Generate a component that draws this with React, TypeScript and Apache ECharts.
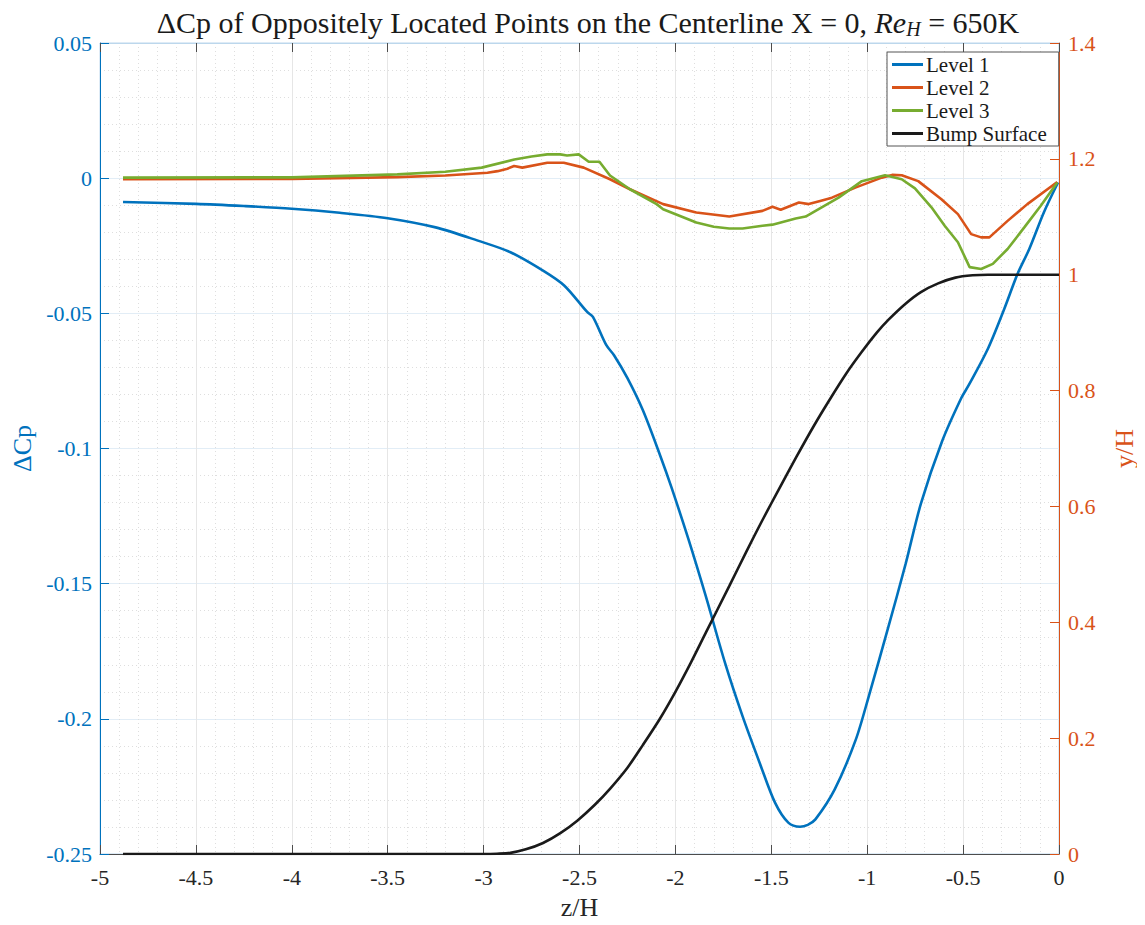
import React, { useEffect, useRef } from "react";
import * as echarts from "echarts";

const level1: [number, number][] = [
  [-4.88, -0.0088], [-4.5, -0.0095], [-4.25, -0.0103], [-4.0, -0.0113], [-3.75, -0.0128],
  [-3.5, -0.0148], [-3.25, -0.0182], [-3.03, -0.0231], [-2.86, -0.0274], [-2.69, -0.0342],
  [-2.58, -0.0397], [-2.46, -0.0495], [-2.43, -0.0513], [-2.36, -0.0618], [-2.32, -0.0655],
  [-2.25, -0.074], [-2.17, -0.0858], [-2.08, -0.1025], [-2.02, -0.1145], [-1.93, -0.134],
  [-1.84, -0.155], [-1.74, -0.1796], [-1.65, -0.199], [-1.56, -0.2164], [-1.48, -0.2311],
  [-1.41, -0.2385], [-1.35, -0.2399], [-1.31, -0.2392], [-1.27, -0.2372], [-1.17, -0.2262],
  [-1.06, -0.2078], [-0.99, -0.1912], [-0.89, -0.1661], [-0.8, -0.1428], [-0.72, -0.1204],
  [-0.61, -0.0974], [-0.51, -0.0814], [-0.47, -0.0765], [-0.37, -0.063], [-0.285, -0.0483],
  [-0.216, -0.0354], [-0.155, -0.0262], [-0.078, -0.0125], [-0.005, -0.0016],
];

const level2: [number, number][] = [
  [-4.88, -0.0004], [-4.0, -0.0003], [-3.45, 0.0004], [-3.2, 0.001], [-2.98, 0.002],
  [-2.927, 0.0026], [-2.876, 0.0035], [-2.841, 0.0045], [-2.798, 0.0039], [-2.668, 0.0057],
  [-2.582, 0.0057], [-2.478, 0.0039], [-2.341, -0.0004], [-2.237, -0.0041], [-2.064, -0.0096],
  [-1.891, -0.0127], [-1.719, -0.0142], [-1.546, -0.0121], [-1.494, -0.0106], [-1.451, -0.0117],
  [-1.356, -0.009], [-1.305, -0.0096], [-1.25, -0.0085], [-1.184, -0.0072], [-1.062, -0.0035],
  [-0.924, 0.0002], [-0.87, 0.0012], [-0.82, 0.0011], [-0.734, -0.0011], [-0.613, -0.0078],
  [-0.527, -0.0133], [-0.458, -0.0207], [-0.406, -0.0219], [-0.363, -0.0219], [-0.268, -0.0158],
  [-0.165, -0.0096], [-0.009, -0.0014],
];

const level3: [number, number][] = [
  [-4.88, 0.0002], [-4.0, 0.0003], [-3.45, 0.0014], [-3.2, 0.0024], [-3.01, 0.0039],
  [-2.84, 0.0069], [-2.75, 0.008], [-2.668, 0.0088], [-2.6, 0.0088], [-2.565, 0.0084],
  [-2.504, 0.0088], [-2.452, 0.0061], [-2.396, 0.0061], [-2.341, 0.001], [-2.237, -0.0041],
  [-2.098, -0.0096], [-2.064, -0.0115], [-1.891, -0.0164], [-1.8, -0.018], [-1.719, -0.0186],
  [-1.65, -0.0186], [-1.546, -0.0176], [-1.494, -0.0172], [-1.373, -0.0149], [-1.321, -0.0142],
  [-1.149, -0.0072], [-1.028, -0.0011], [-0.907, 0.0011], [-0.82, -0.0004], [-0.751, -0.0038],
  [-0.665, -0.0108], [-0.596, -0.0176], [-0.527, -0.0237], [-0.466, -0.0329], [-0.406, -0.0336],
  [-0.345, -0.0317], [-0.268, -0.0262], [-0.181, -0.0182], [-0.095, -0.0102], [-0.009, -0.0016],
];

const bump: [number, number][] = [
  [-4.88, 0], [-3.0, 0], [-2.93, 0.0005], [-2.86, 0.002], [-2.78, 0.008], [-2.69, 0.019],
  [-2.6, 0.036], [-2.51, 0.058], [-2.42, 0.085], [-2.34, 0.113], [-2.25, 0.149],
  [-2.17, 0.188], [-2.08, 0.234], [-2.0, 0.28], [-1.92, 0.33], [-1.84, 0.383],
  [-1.72, 0.462], [-1.63, 0.522], [-1.55, 0.574], [-1.46, 0.63], [-1.37, 0.685],
  [-1.28, 0.738], [-1.2, 0.782], [-1.11, 0.829], [-1.03, 0.866], [-0.95, 0.9],
  [-0.89, 0.922], [-0.8, 0.95], [-0.72, 0.97], [-0.63, 0.985], [-0.54, 0.995],
  [-0.45, 0.999], [-0.37, 1.0], [0, 1.0],
];

const seriesNames = ["Level 1", "Level 2", "Level 3", "Bump Surface"];
const seriesColors = ["#0072BD", "#D95319", "#77AC30", "#1a1a1a"];

const FONT = "'Liberation Serif', 'DejaVu Serif', serif";
const BLUE = "#0072BD";
const ORANGE = "#D95319";

export default function App() {
  const ref = useRef<HTMLDivElement>(null);
  useEffect(() => {
    if (!ref.current) return;
    const chart = echarts.init(ref.current, undefined, { renderer: "svg" });
    const mkLine = (i: number, data: [number, number][], yIdx: number, smooth: number | boolean) => ({
      name: seriesNames[i],
      type: "line",
      data,
      yAxisIndex: yIdx,
      xAxisIndex: 0,
      showSymbol: false,
      symbol: "none",
      smooth,
      lineStyle: { color: seriesColors[i], width: 2.6 },
      itemStyle: { color: seriesColors[i] },
      z: 3,
    });
    chart.setOption({
      animation: false,
      backgroundColor: "#ffffff",
      textStyle: { fontFamily: FONT },
      title: {
        text: "ΔCp of Oppositely Located Points on the Centerline X = 0, {it|Re}{sub|H} = 650K",
        left: 583,
        textAlign: "center",
        top: 1,
        textStyle: {
          fontFamily: FONT,
          fontSize: 30,
          fontWeight: "normal",
          color: "#1a1a1a",
          rich: {
            it: { fontFamily: FONT, fontSize: 30, fontStyle: "italic", color: "#1a1a1a" },
            sub: { fontFamily: FONT, fontSize: 20, fontStyle: "italic", color: "#1a1a1a", padding: [13, 0, 0, 0] },
          },
        },
      },
      legend: {
        orient: "vertical",
        left: 887,
        top: 52,
        padding: [2, 12, 2, 5],
        itemGap: 2,
        itemWidth: 31,
        itemHeight: 3,
        icon: "rect",
        backgroundColor: "#ffffff",
        borderColor: "#555555",
        borderWidth: 1,
        borderRadius: 0,
        textStyle: { fontFamily: FONT, fontSize: 21, color: "#1a1a1a", lineHeight: 21, padding: [0, 0, 0, -2] },
        data: seriesNames,
      },
      grid: {
        left: 100,
        right: 77,
        top: 43,
        bottom: 67,
        show: true,
        borderColor: "#bcd7ec",
        borderWidth: 1,
        backgroundColor: "#ffffff",
      },
      xAxis: [
        {
          type: "value",
          min: -5,
          max: 0,
          interval: 0.5,
          position: "bottom",
          name: "z/H",
          nameLocation: "middle",
          nameGap: 40,
          nameTextStyle: { fontFamily: FONT, fontSize: 26, color: "#262626" },
          axisLine: { show: true, onZero: false, lineStyle: { color: "#4d4d4d", width: 1 } },
          axisTick: { show: true, inside: true, length: 9, lineStyle: { color: "#4d4d4d" } },
          axisLabel: { fontFamily: FONT, fontSize: 22, color: "#262626", margin: 12 },
          splitLine: { show: true, lineStyle: { color: "#e6e6e6", width: 1 } },
          minorTick: { show: false, splitNumber: 5 },
          minorSplitLine: { show: true, lineStyle: { color: "#dedede", width: 1, type: [1, 3] } },
        },
        {
          type: "value",
          min: -5,
          max: 0,
          interval: 0.5,
          position: "top",
          axisLine: { show: true, onZero: false, lineStyle: { color: "#bcd7ec", width: 1 } },
          axisTick: { show: true, inside: true, length: 9, lineStyle: { color: "#4d4d4d" } },
          axisLabel: { show: false },
          splitLine: { show: false },
        },
      ],
      yAxis: [
        {
          type: "value",
          min: -0.25,
          max: 0.05,
          interval: 0.05,
          position: "left",
          name: "ΔCp",
          nameLocation: "middle",
          nameGap: 62,
          nameRotate: 90,
          nameTextStyle: { fontFamily: FONT, fontSize: 26, color: BLUE },
          axisLine: { show: true, onZero: false, lineStyle: { color: BLUE, width: 1 } },
          axisTick: { show: true, inside: true, length: 9, lineStyle: { color: BLUE } },
          axisLabel: {
            fontFamily: FONT,
            fontSize: 22,
            color: BLUE,
            margin: 8,
            formatter: (v: number) => String(+v.toFixed(2)),
          },
          splitLine: { show: true, lineStyle: { color: "#e2edf6", width: 1 } },
          minorTick: { show: false, splitNumber: 5 },
          minorSplitLine: { show: true, lineStyle: { color: "#dedede", width: 1, type: [1, 3] } },
        },
        {
          type: "value",
          min: 0,
          max: 1.4,
          interval: 0.2,
          position: "right",
          name: "y/H",
          nameLocation: "middle",
          nameGap: 52,
          nameRotate: 90,
          nameTextStyle: { fontFamily: FONT, fontSize: 26, color: ORANGE },
          axisLine: { show: true, onZero: false, lineStyle: { color: ORANGE, width: 1 } },
          axisTick: { show: true, inside: true, length: 9, lineStyle: { color: ORANGE } },
          axisLabel: {
            fontFamily: FONT,
            fontSize: 22,
            color: ORANGE,
            margin: 9,
            formatter: (v: number) => String(+v.toFixed(1)),
          },
          splitLine: { show: false },
        },
      ],
      series: [
        mkLine(0, level1, 0, 0.3),
        mkLine(1, level2, 0, false),
        mkLine(2, level3, 0, false),
        mkLine(3, bump, 1, 0.3),
      ],
    });
    return () => chart.dispose();
  }, []);
  return <div ref={ref} style={{ width: 1145, height: 925, margin: -8 }} />;
}
